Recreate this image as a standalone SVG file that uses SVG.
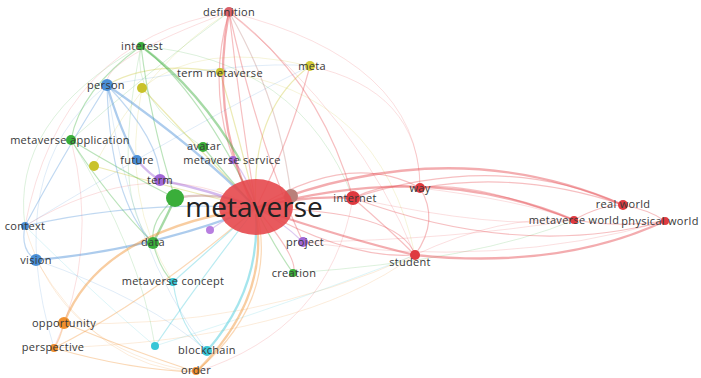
<svg xmlns="http://www.w3.org/2000/svg" width="701" height="378" viewBox="0 0 701 378">
<style>
.e{fill:none;stroke-linecap:round}
.r{stroke:#e5484d}
.g{stroke:#3aae3a}
.b{stroke:#4a8fd6}
.y{stroke:#c9c22a}
.o{stroke:#f0902e}
.c{stroke:#38c6d6}
.p{stroke:#a066d6}
.k{stroke:#b9807a}
.f{stroke-width:0.8;opacity:0.22}
.m{stroke-width:1.2;opacity:0.35}
.t{stroke-width:2.3;opacity:0.45}
.lb{font-family:"Open Sans","Liberation Sans",sans-serif;font-size:11px;letter-spacing:0.3px;fill:#383838;text-anchor:middle}
.big{font-family:"Open Sans","Liberation Sans",sans-serif;font-size:28px;fill:#222;text-anchor:middle}
</style>
<rect width="701" height="378" fill="#fff"/>
<g id="connectors">
<path class="e r f" d="M229 12 Q60 40 25 226"/>
<path class="e g f" d="M141 46 Q10 120 25 226"/>
<path class="e b f" d="M107 85 Q0 170 54 348"/>
<path class="e o f" d="M25 226 Q60 350 196 372"/>
<path class="e o f" d="M36 260 Q100 370 196 372"/>
<path class="e r f" d="M229 12 Q420 60 420 188"/>
<path class="e r f" d="M310 66 Q420 90 420 188"/>
<path class="e r f" d="M229 12 Q360 120 415 255"/>
<path class="e y f" d="M220 72 Q380 90 415 255"/>
<path class="e g f" d="M141 46 Q300 60 353 198"/>
<path class="e b f" d="M107 85 Q250 60 310 66"/>
<path class="e g f" d="M71 140 Q150 70 229 12"/>
<path class="e y f" d="M94 166 Q150 60 229 12"/>
<path class="e r f" d="M25 226 Q150 150 256 208"/>
<path class="e b f" d="M25 226 Q200 120 310 66"/>
<path class="e o f" d="M64 323 Q250 330 415 255"/>
<path class="e o f" d="M54 348 Q300 340 415 255"/>
<path class="e c f" d="M155 346 Q300 300 415 255"/>
<path class="e r f" d="M196 372 Q330 330 353 198"/>
<path class="e g f" d="M293 273 Q480 260 574 220"/>
<path class="e r f" d="M303 242 Q450 240 574 220"/>
<path class="e r f" d="M303 242 Q500 270 665 221"/>
<path class="e r f" d="M353 198 Q500 230 574 220"/>
<path class="e r f" d="M415 255 Q500 215 574 220"/>
<path class="e r f" d="M420 188 Q520 200 574 220"/>
<path class="e r f" d="M71 140 Q100 250 54 348"/>
<path class="e g f" d="M71 140 Q140 250 155 346"/>
<path class="e b f" d="M107 85 Q130 250 207 351"/>
<path class="e g f" d="M141 46 Q110 200 153 243"/>
<path class="e y f" d="M142 88 Q120 200 173 282"/>
<path class="e c f" d="M25 226 Q100 300 155 346"/>
<path class="e b f" d="M36 260 Q150 300 207 351"/>
<path class="e r f" d="M229 12 Q100 60 107 85"/>
<path class="e y f" d="M310 66 Q200 40 142 88"/>
<path class="e g f" d="M203 147 Q130 100 141 46"/>
<path class="e r m" d="M229 12 Q200 110 256 208"/>
<path class="e r m" d="M229 12 Q240 110 256 208"/>
<path class="e k m" d="M229 12 Q280 100 291 196"/>
<path class="e r m" d="M229 12 Q320 80 353 198"/>
<path class="e r m" d="M229 12 Q260 150 303 242"/>
<path class="e r m" d="M310 66 Q290 140 256 208"/>
<path class="e y m" d="M310 66 Q250 110 256 208"/>
<path class="e y m" d="M220 72 Q240 140 256 208"/>
<path class="e y m" d="M142 88 Q200 150 256 208"/>
<path class="e y m" d="M94 166 Q180 190 256 208"/>
<path class="e y m" d="M220 72 Q150 60 107 85"/>
<path class="e g m" d="M141 46 Q150 120 175 198"/>
<path class="e g m" d="M141 46 Q80 90 71 140"/>
<path class="e g m" d="M141 46 Q200 90 256 208"/>
<path class="e g m" d="M71 140 Q120 170 175 198"/>
<path class="e g m" d="M71 140 Q110 200 153 243"/>
<path class="e g m" d="M203 147 Q230 180 256 208"/>
<path class="e g m" d="M175 198 Q150 220 153 243"/>
<path class="e g m" d="M153 243 Q160 270 173 282"/>
<path class="e g m" d="M293 273 Q270 240 256 208"/>
<path class="e b m" d="M107 85 Q160 140 160 180"/>
<path class="e b m" d="M107 85 Q60 160 25 226"/>
<path class="e b m" d="M25 226 Q20 250 36 260"/>
<path class="e b m" d="M25 226 Q140 200 256 208"/>
<path class="e b m" d="M107 85 Q110 200 153 243"/>
<path class="e p m" d="M233 160 Q250 180 256 208"/>
<path class="e p m" d="M303 242 Q280 220 256 208"/>
<path class="e p m" d="M210 230 Q230 215 256 208"/>
<path class="e c m" d="M173 282 Q180 330 207 351"/>
<path class="e c m" d="M155 346 Q200 280 256 208"/>
<path class="e c m" d="M173 282 Q220 240 256 208"/>
<path class="e o m" d="M64 323 Q60 340 54 348"/>
<path class="e o m" d="M54 348 Q150 300 256 208"/>
<path class="e o m" d="M64 323 Q130 350 196 372"/>
<path class="e o m" d="M54 348 Q130 370 196 372"/>
<path class="e o m" d="M196 372 Q280 300 256 208"/>
<path class="e r m" d="M353 198 Q390 180 420 188"/>
<path class="e r m" d="M353 198 Q390 230 415 255"/>
<path class="e r m" d="M420 188 Q440 220 415 255"/>
<path class="e r m" d="M256 208 Q350 150 420 188"/>
<path class="e r m" d="M256 208 Q350 260 415 255"/>
<path class="e r m" d="M256 208 Q400 210 415 255"/>
<path class="e r m" d="M353 198 Q500 150 623 205"/>
<path class="e r m" d="M420 188 Q520 170 623 205"/>
<path class="e r m" d="M574 220 Q600 205 623 205"/>
<path class="e r m" d="M623 205 Q650 210 665 221"/>
<path class="e r m" d="M574 220 Q620 228 665 221"/>
<path class="e r m" d="M353 198 Q520 260 665 221"/>
<path class="e r m" d="M256 208 Q300 260 293 273"/>
<path class="e r m" d="M420 188 Q470 180 574 220"/>
<path class="e r t" d="M256 208 Q300 195 353 198"/>
<path class="e r t" d="M229 12 Q210 110 250 200"/>
<path class="e r t" d="M256 208 Q450 130 623 205"/>
<path class="e r t" d="M256 208 Q430 160 574 220"/>
<path class="e r t" d="M415 255 Q560 270 665 221"/>
<path class="e r t" d="M256 208 Q350 240 415 255"/>
<path class="e k t" d="M175 198 Q220 190 256 208"/>
<path class="e b t" d="M107 85 Q200 150 256 208"/>
<path class="e b t" d="M107 85 Q120 130 137 160"/>
<path class="e b t" d="M36 260 Q150 250 256 208"/>
<path class="e p t" d="M137 160 Q150 175 160 180"/>
<path class="e p t" d="M160 180 Q210 190 256 208"/>
<path class="e g t" d="M141 46 Q200 90 240 160"/>
<path class="e g t" d="M153 243 Q170 210 175 198"/>
<path class="e o t" d="M64 323 Q100 230 256 208"/>
<path class="e o t" d="M196 372 Q270 300 256 215"/>
<path class="e c t" d="M207 351 Q260 290 256 215"/>
</g>
<g id="n-definition"><circle cx="229" cy="12" r="5" fill="#d9626a"/><text class="lb" x="229" y="16">definition</text></g>
<g id="n-interest"><circle cx="141" cy="46" r="4" fill="#3aae3a"/><text class="lb" x="142" y="50">interest</text></g>
<g id="n-term-metaverse"><circle cx="220" cy="72" r="4" fill="#c9c22a"/><text class="lb" x="220" y="77">term metaverse</text></g>
<g id="n-meta"><circle cx="310" cy="66" r="5" fill="#d4cc3a"/><text class="lb" x="312" y="70">meta</text></g>
<g id="n-person"><circle cx="107" cy="85" r="6" fill="#4a8fd6"/><text class="lb" x="106" y="89">person</text></g>
<g id="n-yellow1"><circle cx="142" cy="88" r="5" fill="#c9c22a"/></g>
<g id="n-metaverse-application"><circle cx="71" cy="140" r="5" fill="#3aae3a"/><text class="lb" x="70" y="144">metaverse application</text></g>
<g id="n-avatar"><circle cx="203" cy="147" r="5" fill="#3aae3a"/><text class="lb" x="204" y="150">avatar</text></g>
<g id="n-future"><circle cx="137" cy="160" r="5" fill="#4a8fd6"/><text class="lb" x="137" y="164">future</text></g>
<g id="n-metaverse-service"><circle cx="233" cy="160" r="4" fill="#a066d6"/><text class="lb" x="232" y="164">metaverse service</text></g>
<g id="n-yellow2"><circle cx="94" cy="166" r="5" fill="#c9c22a"/></g>
<g id="n-term"><circle cx="160" cy="180" r="6" fill="#a066d6"/><text class="lb" x="160" y="184">term</text></g>
<g id="n-green"><circle cx="175" cy="198" r="9" fill="#3aae3a"/></g>
<g id="n-grey"><circle cx="291" cy="196" r="7" fill="#b9807a"/></g>
<g id="n-metaverse"><ellipse cx="256" cy="207" rx="37" ry="28" fill="#e5484d" opacity="0.9"/><text class="big" x="254" y="217">metaverse</text></g>
<g id="n-internet"><circle cx="353" cy="198" r="7" fill="#df3a40"/><text class="lb" x="355" y="202">internet</text></g>
<g id="n-way"><circle cx="420" cy="188" r="5" fill="#df3a40"/><text class="lb" x="420" y="192">way</text></g>
<g id="n-real-world"><circle cx="623" cy="205" r="5" fill="#df3a40"/><text class="lb" x="623" y="208">real world</text></g>
<g id="n-metaverse-world"><circle cx="574" cy="220" r="4" fill="#df3a40"/><text class="lb" x="574" y="224">metaverse world</text></g>
<g id="n-physical-world"><circle cx="665" cy="221" r="4" fill="#df3a40"/><text class="lb" x="660" y="225">physical world</text></g>
<g id="n-context"><circle cx="25" cy="226" r="4" fill="#4a8fd6"/><text class="lb" x="25" y="230">context</text></g>
<g id="n-purple"><circle cx="210" cy="230" r="4" fill="#b77ee0"/></g>
<g id="n-data"><circle cx="153" cy="243" r="6" fill="#3aae3a"/><text class="lb" x="153" y="246">data</text></g>
<g id="n-project"><circle cx="303" cy="242" r="5" fill="#a066d6"/><text class="lb" x="305" y="246">project</text></g>
<g id="n-vision"><circle cx="36" cy="260" r="6" fill="#4a8fd6"/><text class="lb" x="36" y="264">vision</text></g>
<g id="n-student"><circle cx="415" cy="255" r="5" fill="#df3a40"/><text class="lb" x="410" y="266">student</text></g>
<g id="n-creation"><circle cx="293" cy="273" r="4" fill="#3aae3a"/><text class="lb" x="294" y="277">creation</text></g>
<g id="n-metaverse-concept"><circle cx="173" cy="282" r="4" fill="#38c6d6"/><text class="lb" x="173" y="285">metaverse concept</text></g>
<g id="n-opportunity"><circle cx="64" cy="323" r="6" fill="#f0902e"/><text class="lb" x="64" y="327">opportunity</text></g>
<g id="n-perspective"><circle cx="54" cy="348" r="4" fill="#f0902e"/><text class="lb" x="53" y="351">perspective</text></g>
<g id="n-cyan"><circle cx="155" cy="346" r="4" fill="#38c6d6"/></g>
<g id="n-blockchain"><circle cx="207" cy="351" r="5" fill="#38c6d6"/><text class="lb" x="207" y="354">blockchain</text></g>
<g id="n-order"><circle cx="196" cy="371" r="4" fill="#f0902e"/><text class="lb" x="196" y="374">order</text></g>
</svg>
